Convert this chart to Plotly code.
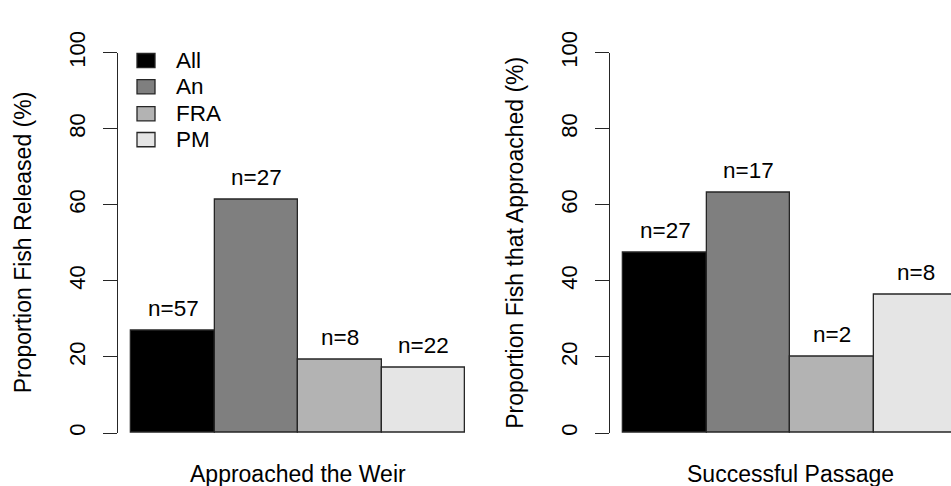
import plotly.graph_objects as go

# Groups and values
groups = ["All", "An", "FRA", "PM"]
colors = ["#000000", "#7f7f7f", "#b3b3b3", "#e5e5e5"]

released_pct = [26.9, 61.4, 19.4, 17.1]
released_n = ["n=57", "n=27", "n=8", "n=22"]

passage_pct = [47.4, 63.2, 20.0, 36.5]
passage_n = ["n=27", "n=17", "n=2", "n=8"]

y_ticks = [0, 20, 40, 60, 80, 100]

W, H = 951, 486
FONT = "Liberation Sans, Arial, sans-serif"
EDGE = "#262626"
TXT = "#000000"

def px_x(p):
    return p / W

def px_y(p):
    return 1 - p / H

# bar unit in pixels and panel geometry
unit = 83.5
pad = 0.16
left_x0 = 118
right_x0 = 610
y_top, y_bot = 32.3, 433.3

fig = go.Figure()

xs = list(range(len(groups)))
fig.add_trace(go.Bar(x=xs, y=released_pct, marker=dict(color=colors, line=dict(color=EDGE, width=1.3)),
                     width=1, xaxis="x", yaxis="y", showlegend=False, hoverinfo="skip"))
fig.add_trace(go.Bar(x=xs, y=passage_pct, marker=dict(color=colors, line=dict(color=EDGE, width=1.3)),
                     width=1, xaxis="x2", yaxis="y2", showlegend=False, hoverinfo="skip"))

left_range = [-0.5 - pad, 3.5 + pad]
left_w = (left_range[1] - left_range[0]) * unit
right_range = [-0.5 - pad, -0.5 - pad + (W - right_x0) / unit]

yaxis_common = dict(range=[0, 100], tickvals=y_ticks, ticks="outside", ticklen=14, tickwidth=1.3,
                    tickcolor=EDGE, showline=True, linecolor=EDGE, linewidth=1.3, showgrid=False,
                    zeroline=False, tickangle=-90, ticklabelstandoff=9,
                    tickfont=dict(family=FONT, size=22, color=TXT),
                    domain=[px_y(y_bot), px_y(y_top)])
xaxis_common = dict(showline=False, showticklabels=False, ticks="", showgrid=False, zeroline=False)

fig.update_layout(
    width=W, height=H, margin=dict(l=0, r=0, t=0, b=0),
    plot_bgcolor="white", paper_bgcolor="white", bargap=0,
    xaxis=dict(xaxis_common, range=left_range, domain=[px_x(left_x0), px_x(left_x0 + left_w)]),
    yaxis=dict(yaxis_common, anchor="x"),
    xaxis2=dict(xaxis_common, range=right_range, domain=[px_x(right_x0), 1]),
    yaxis2=dict(yaxis_common, anchor="x2"),
)

annotations = []
# count labels above bars
for xa, ya, vals, labels in [("x", "y", released_pct, released_n), ("x2", "y2", passage_pct, passage_n)]:
    for i, (v, t) in enumerate(zip(vals, labels)):
        annotations.append(dict(x=i, y=v, xref=xa, yref=ya, text=t, showarrow=False,
                                yanchor="middle", yshift=22,
                                font=dict(family=FONT, size=22.5, color=TXT)))

# axis titles
for cx, txt in [(22.5, "Proportion Fish Released (%)"), (515, "Proportion Fish that Approached (%)")]:
    annotations.append(dict(x=px_x(cx), y=px_y((y_top + y_bot) / 2), xref="paper", yref="paper",
                            text=txt, textangle=-90, showarrow=False, xanchor="center", yanchor="middle",
                            font=dict(family=FONT, size=23, color=TXT)))
for cx, txt in [(left_x0 + left_w / 2, "Approached the Weir"), (right_x0 + left_w / 2, "Successful Passage")]:
    annotations.append(dict(x=px_x(cx), y=px_y(476), xref="paper", yref="paper", text=txt,
                            showarrow=False, xanchor="center", yanchor="middle",
                            font=dict(family=FONT, size=23, color=TXT)))

# legend: filled boxes with labels
shapes = []
row_y = [40.7, 68.3, 96.7, 124.0]
for g, c, ry in zip(groups, colors, row_y):
    shapes.append(dict(type="rect", xref="paper", yref="paper",
                       x0=px_x(137), x1=px_x(155), y0=px_y(ry + 7.5), y1=px_y(ry - 7.5),
                       fillcolor=c, line=dict(color=EDGE, width=1.3)))
    annotations.append(dict(x=px_x(174), y=px_y(ry), xref="paper", yref="paper", text=g,
                            showarrow=False, xanchor="left", yanchor="middle",
                            font=dict(family=FONT, size=22.5, color=TXT)))

fig.update_layout(annotations=annotations, shapes=shapes)

fig.write_html("out.html")
